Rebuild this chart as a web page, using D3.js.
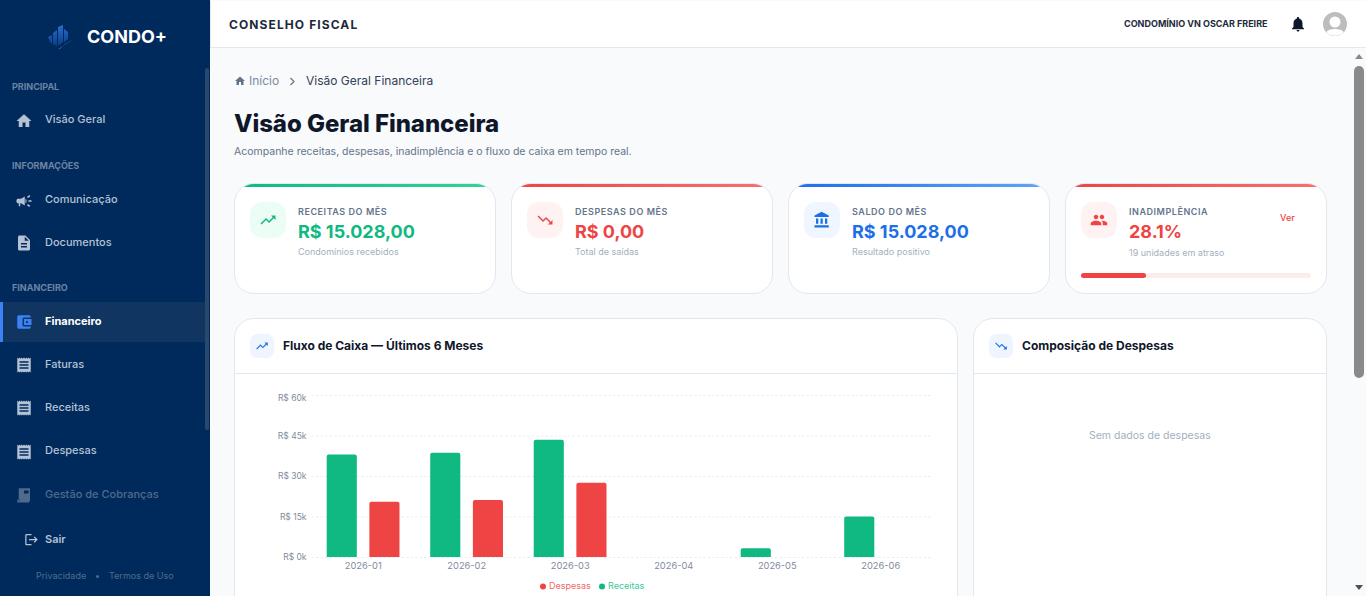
<!DOCTYPE html>
<html lang="pt-BR">
<head>
<meta charset="utf-8">
<title>Conselho Fiscal</title>
<script src="https://cdn.jsdelivr.net/npm/d3@7"></script>
<style>
* { box-sizing: border-box; margin: 0; padding: 0; }
html, body { width: 1366px; height: 596px; overflow: hidden; background: #f8fafc; font-family: Inter, sans-serif; }
.abs, .t { position: absolute; }
.t { white-space: nowrap; line-height: 16px; margin-top: -8px; }
svg.i { position: absolute; fill: currentColor; display: block; }

#sidebar { position: absolute; left: 0; top: 0; width: 210px; height: 596px; background: #002a5c; }
#sidebar .sec { left: 12px; font-size: 9px; font-weight: 700; color: #6c84a3; }
#sidebar .it { left: 45px; font-size: 11px; font-weight: 500; color: #b4c2d4; }
#sidebar svg.i { left: 15px; width: 18px; height: 18px; color: #b4c2d4; }

#topbar { position: absolute; left: 210px; top: 1px; width: 1156px; height: 47px; background: #fff; border-bottom: 1px solid #e2e8f0; border-left: 1px solid #e2e8f0; }

.card { position: absolute; background: #fff; border: 1px solid #e2e8f0; border-radius: 20px; overflow: hidden; }
.card .bar { position: absolute; left: -1px; right: -1px; top: -1px; height: 4px; }
.ibox { position: absolute; width: 36px; height: 36px; border-radius: 12px; }
.ibox svg { left: 9px; top: 9px; width: 18px; height: 18px; }
.kl { font-size: 9px; font-weight: 600; color: #64748b; letter-spacing: .55px; }
.kv { font-size: 18px; font-weight: 700; }
.ks { font-size: 9px; color: #a3afbf; }
.hbox { position: absolute; width: 24px; height: 24px; border-radius: 7px; background: #eff5ff; color: #2b6fe8; }
.hbox svg { left: 5px; top: 5px; width: 14px; height: 14px; }
.ct { font-size: 12px; font-weight: 700; color: #0f172a; }
.hline { position: absolute; height: 1px; background: #e2e8f0; }
</style>
</head>
<body>
<div id="sidebar">
  <svg class="abs" style="left:47px;top:24px" width="28" height="26" viewBox="0 0 28 26">
    <defs><linearGradient id="lg" x1="0" y1="0" x2="0" y2="1"><stop offset="0" stop-color="#2a6fd0"/><stop offset="1" stop-color="#0b3c88"/></linearGradient></defs>
    <path fill="url(#lg)" d="M1 13l4-2v9l-2-2z M6 9l4-3v16l-4-2z M11 3l5-2v17l-5 4z M17 5l4 3v7l-4 3z"/>
    <path fill="#1f66c4" d="M11 25l16-10-9 5-5 5z"/>
  </svg>
  <div class="t" style="left:87px;top:37px;font-size:18px;font-weight:700;color:#fff">CONDO+</div>

  <div class="t sec" style="top:87px">PRINCIPAL</div>
  <svg class="i" style="top:112px" viewBox="0 0 24 24"><path d="M10 20v-6h4v6h5v-8h3L12 3 2 12h3v8z"/></svg>
  <div class="t it" style="top:119px">Visão Geral</div>

  <div class="t sec" style="top:166px">INFORMAÇÕES</div>
  <svg class="i" style="top:192px" viewBox="0 0 24 24"><path d="M18 11v2h4v-2h-4zm-2 6.61c.96.71 2.21 1.65 3.2 2.39.4-.53.8-1.07 1.2-1.6-.99-.74-2.24-1.68-3.2-2.4-.4.54-.8 1.08-1.2 1.61zM20.4 5.6c-.4-.53-.8-1.07-1.2-1.6-.99.74-2.24 1.68-3.2 2.4.4.53.8 1.07 1.2 1.6.96-.72 2.21-1.65 3.2-2.4zM4 9c-1.1 0-2 .9-2 2v2c0 1.1.9 2 2 2h1v4h2v-4h1l5 3V6L8 9H4zm11.5 3c0-1.33-.58-2.53-1.5-3.35v6.69c.92-.81 1.5-2.01 1.5-3.34z"/></svg>
  <div class="t it" style="top:199px">Comunicação</div>
  <svg class="i" style="top:234px" viewBox="0 0 24 24"><path d="M14 2H6c-1.1 0-1.99.9-1.99 2L4 20c0 1.1.89 2 1.99 2H18c1.1 0 2-.9 2-2V8l-6-6zm2 16H8v-2h8v2zm0-4H8v-2h8v2zm-3-5V3.5L18.5 9H13z"/></svg>
  <div class="t it" style="top:242px">Documentos</div>

  <div class="t sec" style="top:288px">FINANCEIRO</div>
  <div class="abs" style="left:0;top:302px;width:205px;height:40px;background:#0f3560"></div>
  <div class="abs" style="left:0;top:302px;width:3px;height:40px;background:#3b82f6"></div>
  <svg class="i" style="top:313px;color:#3b82f6" viewBox="0 0 24 24"><path d="M21 18v1c0 1.1-.9 2-2 2H5c-1.11 0-2-.9-2-2V5c0-1.1.89-2 2-2h14c1.1 0 2 .9 2 2v1h-9c-1.11 0-2 .9-2 2v8c0 1.1.89 2 2 2h9zm-9-2h10V8H12v8zm4-2.5c-.83 0-1.5-.67-1.5-1.5s.67-1.5 1.5-1.5 1.5.67 1.5 1.5-.67 1.5-1.5 1.5z"/></svg>
  <div class="t it" style="top:321px;color:#fff;font-weight:700">Financeiro</div>
  <svg class="i" style="top:356px" viewBox="0 0 24 24"><path id="rc" d="M18 17H6v-2h12v2zm0-4H6v-2h12v2zm0-4H6V7h12v2zM3 22l1.5-1.5L6 22l1.5-1.5L9 22l1.5-1.5L12 22l1.5-1.5L15 22l1.5-1.5L18 22l1.5-1.5L21 22V2l-1.5 1.5L18 2l-1.5 1.5L15 2l-1.5 1.5L12 2l-1.5 1.5L9 2 7.5 3.5 6 2 4.5 3.5 3 2v20z"/></svg>
  <div class="t it" style="top:364px">Faturas</div>
  <svg class="i" style="top:399px" viewBox="0 0 24 24"><use href="#rc"/></svg>
  <div class="t it" style="top:407px">Receitas</div>
  <svg class="i" style="top:443px" viewBox="0 0 24 24"><use href="#rc"/></svg>
  <div class="t it" style="top:450px">Despesas</div>
  <svg class="i" style="top:486px;color:#4f6b8c" viewBox="0 0 24 24"><path d="M5 3h15v17H5zM3 18v4h16v-2H6v-2z M12 6v4h6V6z"/></svg>
  <div class="t it" style="top:494px;color:#4f6b8c">Gestão de Cobranças</div>
  <svg class="i" style="top:532px;left:24px;width:15px;height:15px" viewBox="0 0 24 24"><path d="M17 7l-1.41 1.41L18.17 11H8v2h10.17l-2.58 2.58L17 17l5-5zM4 5h8V3H4c-1.1 0-2 .9-2 2v14c0 1.1.9 2 2 2h8v-2H4V5z"/></svg>
  <div class="t it" style="top:539px;font-weight:600">Sair</div>
  <div class="t" style="left:36px;top:576px;font-size:9px;color:#4f6b8c">Privacidade</div>
  <div class="abs" style="left:96px;top:575px;width:3px;height:3px;border-radius:50%;background:#4f6b8c"></div>
  <div class="t" style="left:109px;top:576px;font-size:9px;color:#4f6b8c">Termos de Uso</div>
  <div class="abs" style="left:205px;top:68px;width:4px;height:362px;border-radius:2px;background:#27496f"></div>
</div>

<div id="topbar"></div>
<div class="t" style="left:229px;top:25px;font-size:12px;font-weight:700;letter-spacing:1.1px;color:#1e293b">CONSELHO FISCAL</div>
<div class="t" style="left:1124px;top:24px;font-size:9px;font-weight:700;color:#1e293b">CONDOMÍNIO VN OSCAR FREIRE</div>
<svg class="i" style="left:1289px;top:15px;width:18px;height:18px;color:#0f172a" viewBox="0 0 24 24"><path d="M12 22c1.1 0 2-.9 2-2h-4c0 1.1.89 2 2 2zm6-6v-5c0-3.07-1.64-5.64-4.5-6.32V4c0-.83-.67-1.5-1.5-1.5s-1.5.67-1.5 1.5v.68C7.63 5.36 6 7.92 6 11v5l-2 2v1h16v-1l-2-2z"/></svg>
<svg class="abs" style="left:1323px;top:12px" width="24" height="24" viewBox="0 0 24 24">
  <circle cx="12" cy="12" r="12" fill="#bdbdbd"/><circle cx="12" cy="10" r="5.5" fill="#fff"/><path d="M3.5 20c2-4 15-4 17 0-3 5-14 5-17 0z" fill="#fff"/>
</svg>

<svg class="i" style="left:234px;top:75px;width:12px;height:12px;color:#64748b" viewBox="0 0 24 24"><path d="M10 20v-6h4v6h5v-8h3L12 3 2 12h3v8z"/></svg>
<div class="t" style="left:249px;top:81px;font-size:12px;color:#7c8aa0">Início</div>
<svg class="abs" style="left:289px;top:77px" width="7" height="9" viewBox="0 0 7 9"><path d="M1.5 1l3.5 3.5L1.5 8" fill="none" stroke="#64748b" stroke-width="1.2"/></svg>
<div class="t" style="left:306px;top:81px;font-size:12px;color:#334155">Visão Geral Financeira</div>
<div class="t" style="left:234px;top:124px;font-size:24px;font-weight:800;letter-spacing:-.05px;color:#0f172a;line-height:30px;margin-top:-15px">Visão Geral Financeira</div>
<div class="t" style="left:234px;top:152px;font-size:10.5px;color:#64748b">Acompanhe receitas, despesas, inadimplência e o fluxo de caixa em tempo real.</div>

<div class="card" style="left:234px;top:183px;width:262px;height:111px"><div class="bar" style="background:linear-gradient(90deg,#10b981,#34d399)"></div></div>
<div class="ibox" style="left:250px;top:202px;background:#ecfdf5;color:#10b981"><svg class="i" viewBox="0 0 24 24"><path d="M16 6l2.29 2.29-4.88 4.88-4-4L2 16.59 3.41 18l6-6 4 4 6.3-6.29L22 12V6z"/></svg></div>
<div class="t kl" style="left:298px;top:212px">RECEITAS DO MÊS</div>
<div class="t kv" style="left:298px;top:232px;color:#10b981">R$ 15.028,00</div>
<div class="t ks" style="left:298px;top:252px">Condomínios recebidos</div>

<div class="card" style="left:511px;top:183px;width:262px;height:111px"><div class="bar" style="background:linear-gradient(90deg,#ef4444,#f87171)"></div></div>
<div class="ibox" style="left:527px;top:202px;background:#fef2f2;color:#ef4444"><svg class="i" viewBox="0 0 24 24"><path d="M16 18l2.29-2.29-4.88-4.88-4 4L2 7.41 3.41 6l6 6 4-4 6.3 6.29L22 12v6z"/></svg></div>
<div class="t kl" style="left:575px;top:212px">DESPESAS DO MÊS</div>
<div class="t kv" style="left:575px;top:232px;color:#ef4444">R$ 0,00</div>
<div class="t ks" style="left:575px;top:252px">Total de saídas</div>

<div class="card" style="left:788px;top:183px;width:262px;height:111px"><div class="bar" style="background:linear-gradient(90deg,#1d6fe8,#60a5fa)"></div></div>
<div class="ibox" style="left:804px;top:202px;background:#eff6ff;color:#1d6fe8"><svg class="i" viewBox="0 0 24 24"><path d="M4 10v7h3v-7H4zm6 0v7h3v-7h-3zM2 22h19v-3H2v3zm14-12v7h3v-7h-3zm-4.5-9L2 6v2h19V6l-9.5-5z"/></svg></div>
<div class="t kl" style="left:852px;top:212px">SALDO DO MÊS</div>
<div class="t kv" style="left:852px;top:232px;color:#1d6fe8">R$ 15.028,00</div>
<div class="t ks" style="left:852px;top:252px">Resultado positivo</div>

<div class="card" style="left:1065px;top:183px;width:262px;height:111px"><div class="bar" style="background:linear-gradient(90deg,#ef4444,#f87171)"></div></div>
<div class="ibox" style="left:1081px;top:202px;background:#fef2f2;color:#ef4444"><svg class="i" viewBox="0 0 24 24"><path d="M16 11c1.66 0 2.99-1.34 2.99-3S17.66 5 16 5c-1.66 0-3 1.34-3 3s1.34 3 3 3zm-8 0c1.66 0 2.99-1.34 2.99-3S9.66 5 8 5C6.34 5 5 6.34 5 8s1.34 3 3 3zm0 2c-2.33 0-7 1.17-7 3.5V19h14v-2.5c0-2.33-4.67-3.5-7-3.5zm8 0c-.29 0-.62.02-.97.05 1.16.84 1.97 1.97 1.97 3.45V19h6v-2.5c0-2.33-4.67-3.5-7-3.5z"/></svg></div>
<div class="t kl" style="left:1129px;top:212px">INADIMPLÊNCIA</div>
<div class="t kv" style="left:1129px;top:232px;color:#ef4444">28.1%</div>
<div class="t ks" style="left:1129px;top:253px">19 unidades em atraso</div>
<div class="t" style="left:1280px;top:218px;font-size:9px;font-weight:500;color:#ef4444">Ver</div>
<div class="abs" style="left:1081px;top:273px;width:230px;height:5px;border-radius:3px;background:#fdecec"></div>
<div class="abs" style="left:1081px;top:273px;width:65px;height:5px;border-radius:3px;background:#ef4444"></div>

<div class="card" style="left:234px;top:318px;width:724px;height:320px"></div>
<div class="hline" style="left:235px;top:373px;width:722px"></div>
<div class="hbox" style="left:250px;top:334px"><svg class="i" viewBox="0 0 24 24"><path d="M16 6l2.29 2.29-4.88 4.88-4-4L2 16.59 3.41 18l6-6 4 4 6.3-6.29L22 12V6z"/></svg></div>
<div class="t ct" style="left:283px;top:346px">Fluxo de Caixa — Últimos 6 Meses</div>

<div class="card" style="left:973px;top:318px;width:354px;height:320px"></div>
<div class="hline" style="left:974px;top:373px;width:352px"></div>
<div class="hbox" style="left:989px;top:334px"><svg class="i" viewBox="0 0 24 24"><path d="M16 18l2.29-2.29-4.88-4.88-4 4L2 7.41 3.41 6l6 6 4-4 6.3 6.29L22 12v6z"/></svg></div>
<div class="t ct" style="left:1022px;top:346px">Composição de Despesas</div>
<div class="t" style="left:1089px;top:436px;font-size:10.5px;color:#a3afbf">Sem dados de despesas</div>

<svg id="chart" class="abs" style="left:0;top:0" width="1366" height="596"></svg>

<div class="abs" style="left:1352px;top:48px;width:14px;height:548px;background:#f8fafc"></div>
<div class="abs" style="left:1354px;top:66px;width:10px;height:312px;border-radius:5px;background:#8a8a8a"></div>
<svg class="abs" style="left:1354px;top:53px" width="10" height="7"><path d="M5 1l4 5H1z" fill="#8a8a8a"/></svg>
<svg class="abs" style="left:1354px;top:584px" width="10" height="7"><path d="M5 6L1 1h8z" fill="#505050"/></svg>

<script>
const months = ['2026-01', '2026-02', '2026-03', '2026-04', '2026-05', '2026-06']
const receitas = [38000, 38600, 43400, 0, 3200, 15028]
const despesas = [20500, 21100, 27500, 0, 0, 0]
const yTicks = [0, 15000, 30000, 45000, 60000]
const seriesNames = ['Receitas', 'Despesas']
const legendOrder = ['Despesas', 'Receitas']

const colors = { Receitas: '#10b981', Despesas: '#ef4444' }
const plot = { left: 311.5, right: 932.5, gridRight: 930.5, top: 395, bottom: 557 }

/**
 * Builds the path of a bar with rounded top corners
 *
 * @param {number} x The left edge
 * @param {number} y The top edge
 * @param {number} w The width
 * @param {number} h The height
 * @param {number} r The corner radius
 * @returns {string} The path
 */
function barPath (x, y, w, h, r) {
  const p = d3.path()
  const rr = Math.min(r, h)
  p.moveTo(x, y + h)
  p.lineTo(x, y + rr)
  p.quadraticCurveTo(x, y, x + rr, y)
  p.lineTo(x + w - rr, y)
  p.quadraticCurveTo(x + w, y, x + w, y + rr)
  p.lineTo(x + w, y + h)
  p.closePath()
  return p.toString()
}

/**
 * Draws the grid, the axes, the grouped bars and the legend
 */
function drawChart () {
  const svg = d3.select('#chart')
  const xScale = d3.scaleBand().domain(months).range([plot.left, plot.right])
  const innerScale = d3.scaleBand().domain(seriesNames).range([15.2, 88]).paddingInner(0.294).paddingOuter(0)
  const yScale = d3.scaleLinear().domain([0, 60000]).range([plot.bottom, plot.top])

  const yAxis = svg.append('g')
    .attr('transform', `translate(${plot.left},0)`)
    .call(d3.axisLeft(yScale)
      .tickValues(yTicks)
      .tickFormat(d => `R$ ${d / 1000}k`)
      .tickSize(-(plot.gridRight - plot.left))
      .tickPadding(5))
  yAxis.select('.domain').remove()
  yAxis.selectAll('line').attr('stroke', '#eaedf2').attr('stroke-dasharray', '2.5 2')
  yAxis.selectAll('text')
    .attr('fill', '#7f8b9e')
    .style('font-family', 'Inter')
    .style('font-size', '8.5px')
    .attr('y', d => d === 60000 ? 3 : 0)

  const xAxis = svg.append('g')
    .attr('transform', `translate(0,${plot.bottom})`)
    .call(d3.axisBottom(xScale).tickSize(0).tickPadding(5))
  xAxis.select('.domain').remove()
  xAxis.selectAll('text').attr('fill', '#7f8b9e').style('font-family', 'Inter').style('font-size', '9.3px')

  const values = { Receitas: receitas, Despesas: despesas }
  const groups = svg.selectAll('g.month')
    .data(months)
    .enter()
    .append('g')
    .attr('class', 'month')
    .attr('transform', d => `translate(${xScale(d)},0)`)

  seriesNames.forEach(name => {
    groups.filter((d, i) => values[name][i] > 0)
      .append('path')
      .attr('fill', colors[name])
      .attr('d', d => {
        const v = values[name][months.indexOf(d)]
        return barPath(innerScale(name), yScale(v), innerScale.bandwidth(), plot.bottom - yScale(v), 2)
      })
  })

  const legend = svg.selectAll('g.leg')
    .data(legendOrder)
    .enter()
    .append('g')
    .attr('class', 'leg')
    .attr('transform', (d, i) => `translate(${i === 0 ? 543 : 602},586.5)`)
  legend.append('circle').attr('r', 3).attr('fill', d => colors[d])
  legend.append('text')
    .attr('x', 6)
    .attr('y', 2.5)
    .attr('fill', d => d3.interpolateRgb(colors[d], '#ffffff')(0.2))
    .style('font-family', 'Inter')
    .style('font-size', '9px')
    .text(d => d)
}

drawChart()
</script>
</body>
</html>
